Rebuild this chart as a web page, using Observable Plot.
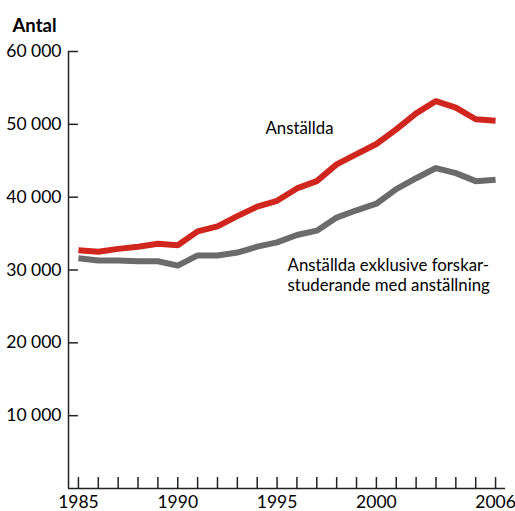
<!DOCTYPE html>
<html>
<head>
<meta charset="utf-8">
<script src="https://cdn.jsdelivr.net/npm/d3@7"></script>
<script src="https://cdn.jsdelivr.net/npm/@observablehq/plot@0.6"></script>
<style>
  html, body { margin: 0; padding: 0; background: #fff; }
  #chart svg { display: block; }
</style>
</head>
<body>
<div id="chart"></div>
<script>
const years = d3.range(1985, 2007);
const anstallda = [32700, 32500, 32900, 33200, 33600, 33400, 35300, 36000, 37400, 38700, 39500, 41200, 42200, 44500, 45900, 47300, 49300, 51500, 53200, 52300, 50700, 50500];
const exklusive = [31600, 31300, 31300, 31200, 31200, 30600, 32000, 32000, 32400, 33200, 33800, 34800, 35400, 37200, 38200, 39100, 41100, 42600, 44000, 43300, 42200, 42400];
const yTicks = [0, 10000, 20000, 30000, 40000, 50000, 60000];
const xLabelYears = [1985, 1990, 1995, 2000, 2006];
const seriesNames = ["Anställda", "Anställda exklusive forskar-\nstuderande med anställning"];

const rows = [
  ...years.map((year, i) => ({year, value: anstallda[i], series: seriesNames[0]})),
  ...years.map((year, i) => ({year, value: exklusive[i], series: seriesNames[1]}))
];

const fmt = d => d === 0 ? "" : d3.format(",")(d).replace(/,/g, " ");
const font = "Lato, 'Open Sans', sans-serif";

const chart = Plot.plot({
  width: 515,
  height: 511,
  marginLeft: 68,
  marginRight: 10,
  marginTop: 51,
  marginBottom: 23,
  style: {fontFamily: font, fontSize: "17px", color: "#000", background: "#fff"},
  x: {domain: [1984.5, 2006.5]},
  y: {domain: [0, 60000]},
  color: {domain: seriesNames, range: ["#d0261e", "#6b6b6b"]},
  marks: [
    Plot.axisY({ticks: yTicks, tickSize: 0, tickPadding: 7, tickFormat: fmt, label: null, fontSize: 17.5}),
    Plot.ruleY(yTicks.filter(d => d > 0), {x1: 1984.5, x2: 1985, stroke: "#222", strokeWidth: 1.5}),
    Plot.axisX({ticks: xLabelYears, tickSize: 0, tickPadding: 7, tickFormat: d => String(d), label: null, fontSize: 17.5}),
    Plot.ruleX(years, {y1: 0, y2: 1500, stroke: "#222", strokeWidth: 1.5}),
    Plot.ruleX([1984.5], {y1: 0, y2: 60000, stroke: "#222", strokeWidth: 1.5}),
    Plot.ruleY([0], {stroke: "#222", strokeWidth: 1.5}),
    Plot.line(rows, {x: "year", y: "value", z: "series", stroke: "series", strokeWidth: 6, strokeLinejoin: "miter", strokeLinecap: "butt"}),
    Plot.text([seriesNames[0]], {x: 1994.42, y: 50300, text: d => d, textAnchor: "start", lineAnchor: "top", fontSize: 16.8, fill: "#000"}),
    Plot.text([seriesNames[1]], {x: 1995.53, y: 31700, text: d => d, textAnchor: "start", lineAnchor: "top", fontSize: 16.8, lineHeight: 1.15, fill: "#000"}),
    Plot.text(["Antal"], {frameAnchor: "top-left", text: d => d, dx: -56, dy: -20, textAnchor: "start", lineAnchor: "bottom", fontSize: 18.5, fontWeight: "bold", fill: "#000"})
  ]
});
document.getElementById("chart").appendChild(chart);
</script>
</body>
</html>
